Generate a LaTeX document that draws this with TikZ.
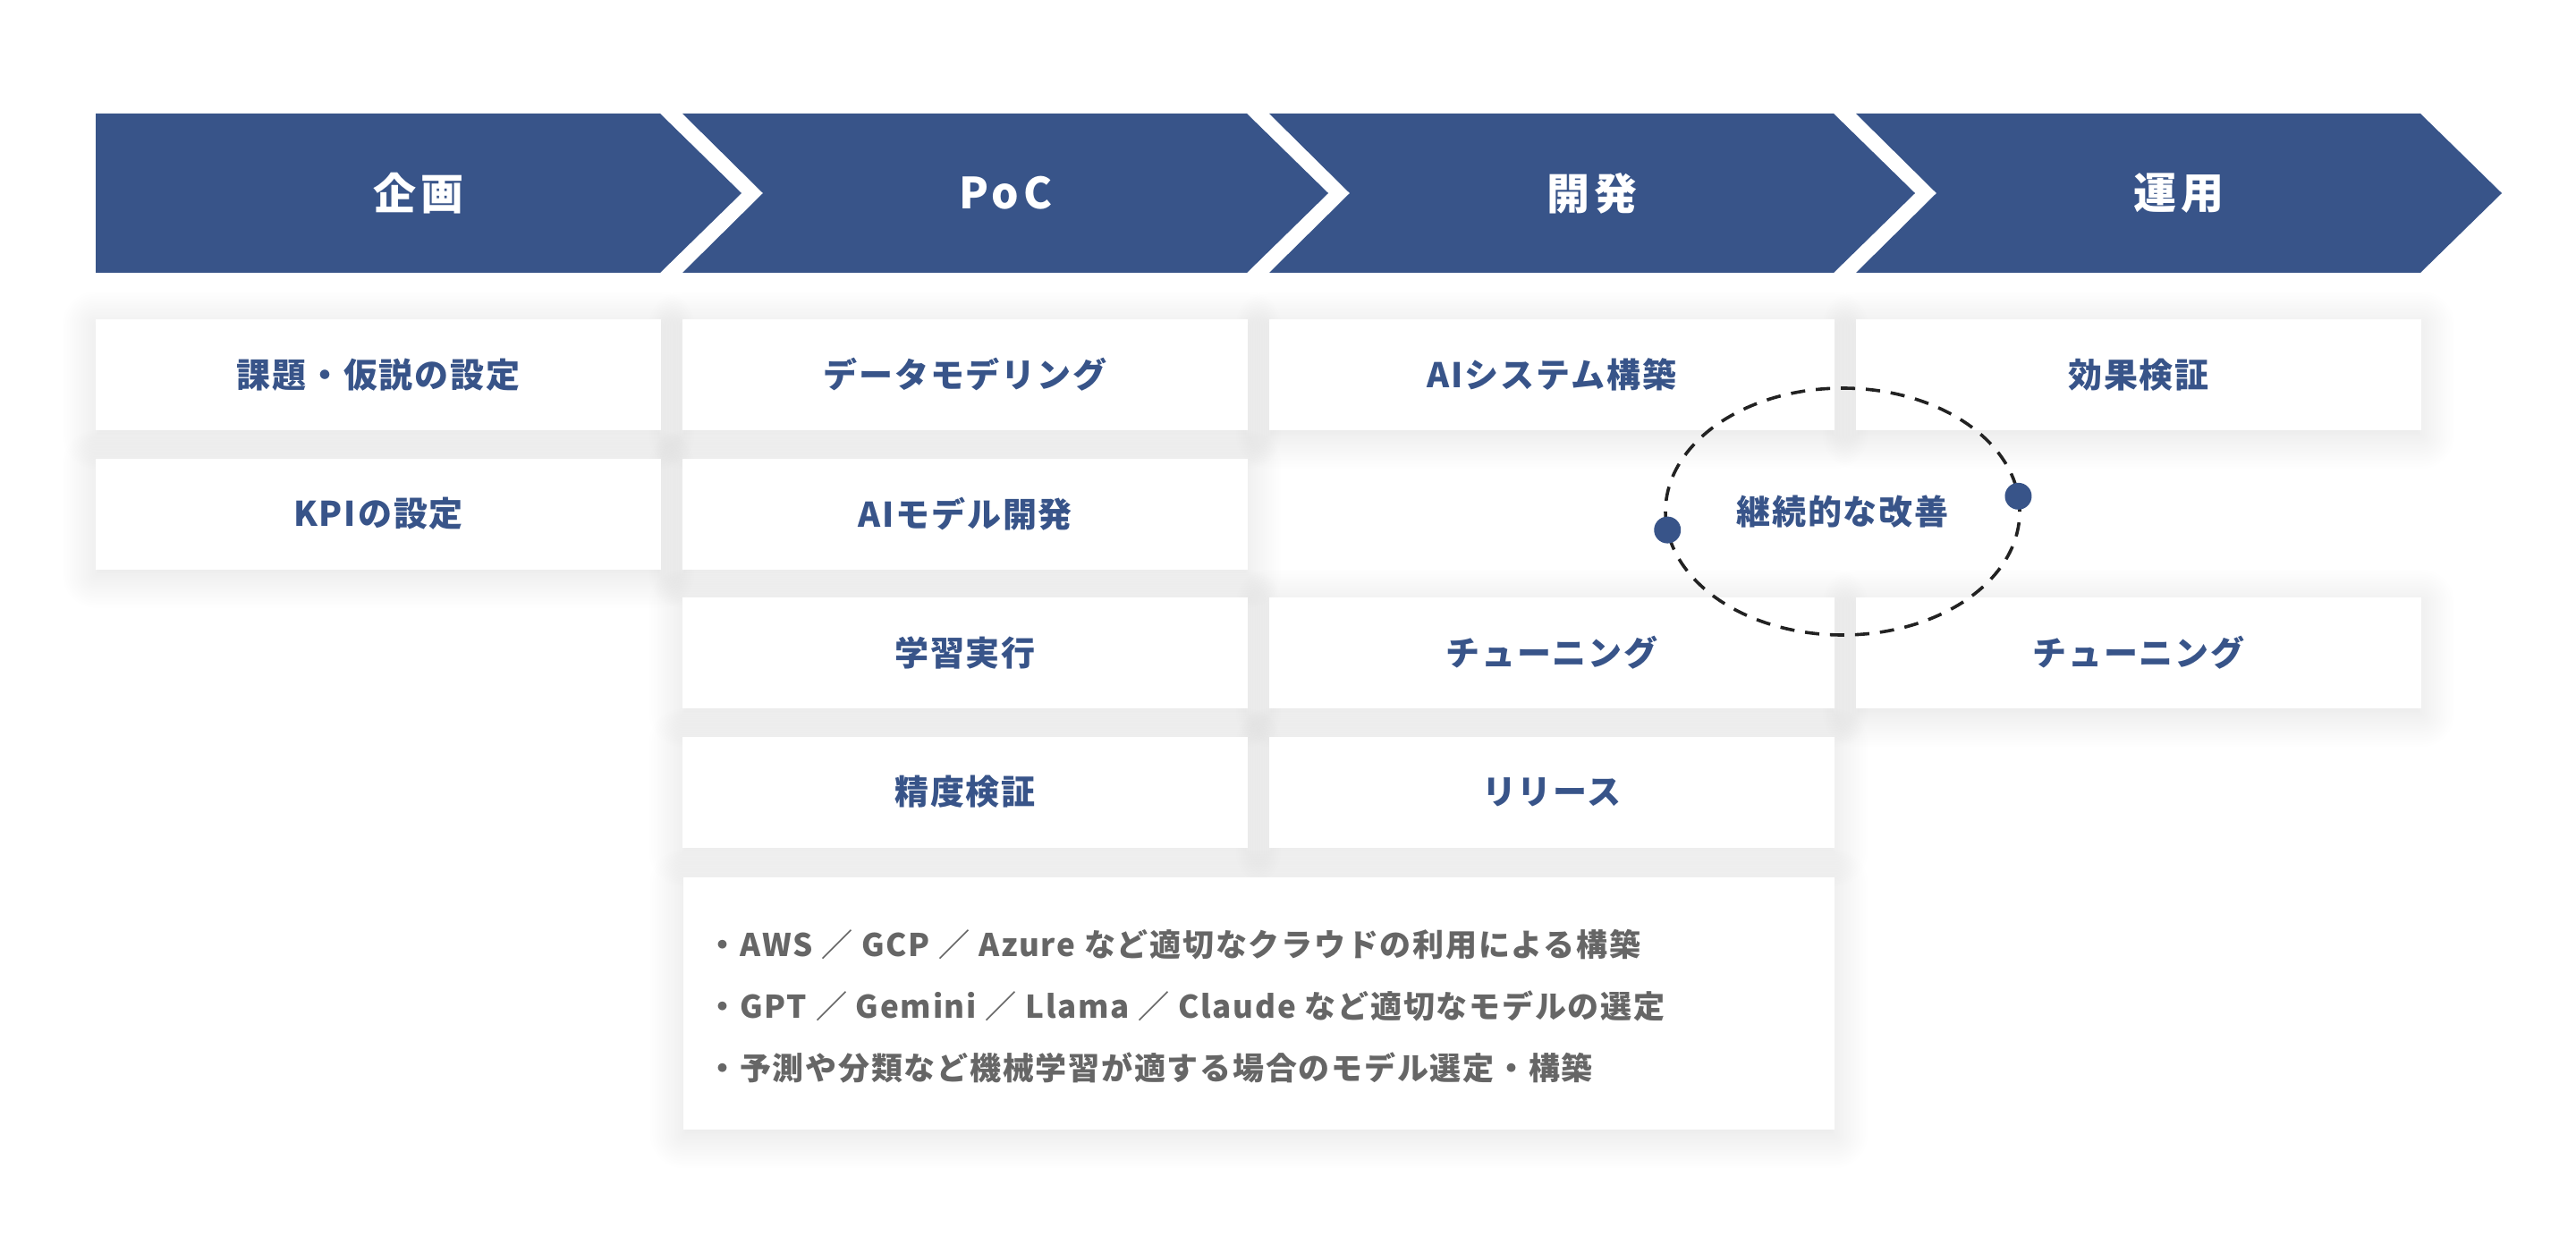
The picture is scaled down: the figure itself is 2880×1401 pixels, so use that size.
\documentclass[tikz,border=0pt]{standalone}
\usepackage{fontspec}
\usepackage{tikz}
\usetikzlibrary{positioning,shapes.geometric,shadows.blur}

\newfontfamily\jp{Noto Sans CJK JP}[LetterSpace=5]
\newfontfamily\jpwide{Noto Sans CJK JP}[LetterSpace=10]

\definecolor{navy}{HTML}{385489}
\definecolor{notegray}{HTML}{666666}
\definecolor{loopline}{HTML}{222222}

\tikzset{
  phase/.style={text=white, font=\jpwide\bfseries\fontsize{24pt}{24pt}\selectfont, inner sep=0pt},
  boxshadow/.style={fill=white, blur shadow={shadow xshift=0pt, shadow yshift=-3pt, shadow blur radius=20pt, shadow blur steps=16, shadow opacity=12}},
  taskbox/.style={fill=white, minimum width=316pt, minimum height=62pt, inner sep=0pt, text=navy, font=\jp\bfseries\fontsize{19pt}{19pt}\selectfont},
  notebox/.style={fill=white, minimum width=643.5pt, minimum height=141pt, inner sep=0pt},
  note/.style={anchor=west, inner sep=0pt, text=notegray, font=\jp\bfseries\fontsize{17.5pt}{17.5pt}\selectfont},
  loopring/.style={ellipse, draw=loopline, line width=1.8pt, dash pattern=on 8pt off 6pt, minimum width=198pt, minimum height=138pt, inner sep=0pt, outer sep=0pt, text=navy, font=\jp\bfseries\fontsize{19pt}{19pt}\selectfont},
  loopdot/.style={circle, fill=navy, minimum size=15pt, inner sep=0pt}
}

\begin{document}
\begin{tikzpicture}[x=0.5pt,y=-0.5pt]
\useasboundingbox (0,0) rectangle (2880,1401);

\foreach \x/\y in {107/357, 107/512.5, 763/357, 763/512.5, 763/668, 763/823.5, 1419/357, 1419/668, 1419/823.5, 2075/357, 2075/668}
  \path[boxshadow] (\x,\y) rectangle ++(632,124);
\path[boxshadow] (764,981) rectangle (2051,1263);

\fill[navy] (107,127) -- (738,127) -- (829,216) -- (738,305) -- (107,305) -- cycle;
\node[phase] (plan) at (468,216) {企画};
\foreach \x/\n/\t in {763/poc/PoC, 1419/dev/開発, 2075/ops/運用} {
  \fill[navy] (\x,127) -- ++(631,0) -- ++(91,89) -- ++(-91,89) -- ++(-631,0) -- ++(90,-89) -- cycle;
  \node[phase] (\n) at (\x+361,216) {\t};
}

\node[taskbox] (plan1) at (423,419) {課題・仮説の設定};
\node[taskbox] (plan2) at (423,574.5) {KPIの設定};
\node[taskbox] (poc1) at (1079,419) {データモデリング};
\node[taskbox] (poc2) at (1079,574.5) {AIモデル開発};
\node[taskbox] (poc3) at (1079,730) {学習実行};
\node[taskbox] (poc4) at (1079,885.5) {精度検証};
\node[taskbox] (dev1) at (1735,419) {AIシステム構築};
\node[taskbox] (dev3) at (1735,730) {チューニング};
\node[taskbox] (dev4) at (1735,885.5) {リリース};
\node[taskbox] (ops1) at (2391,419) {効果検証};
\node[taskbox] (ops3) at (2391,730) {チューニング};

\node[notebox] (notes) at (1407.5,1122) {};
\node[note] (note1) at (790,1056) {・AWS ／ GCP ／ Azure など適切なクラウドの利用による構築};
\node[note] (note2) at (790,1125) {・GPT ／ Gemini ／ Llama ／ Claude など適切なモデルの選定};
\node[note] (note3) at (790,1194) {・予測や分類など機械学習が適する場合のモデル選定・構築};

\node[loopring] (loop) at (2060,572) {継続的な改善};
\node[loopdot] (dotL) at (loop.186) {};
\node[loopdot] (dotR) at (loop.5.5) {};
\end{tikzpicture}
\end{document}
